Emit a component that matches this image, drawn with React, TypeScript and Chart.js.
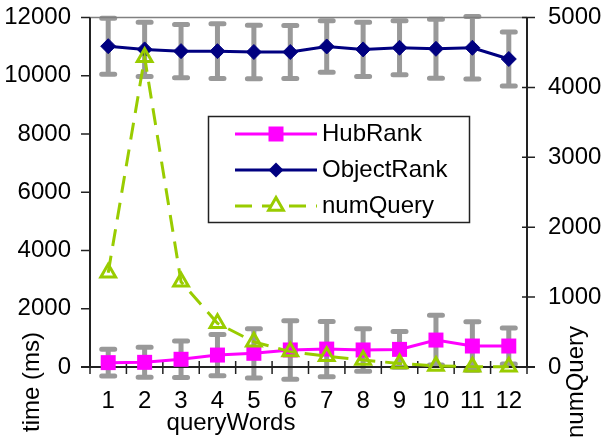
import React, { useEffect, useRef } from 'react';
import { Chart, registerables } from 'chart.js';

Chart.register(...registerables);

// Number of query words on the x axis
const queryWords = ['1', '2', '3', '4', '5', '6', '7', '8', '9', '10', '11', '12'];

// Mean query time (ms) and its spread, left axis
const hubRank = [150, 160, 265, 410, 470, 585, 615, 585, 605, 925, 720, 720];
const hubRankErr = [460, 515, 625, 710, 845, 1005, 950, 730, 615, 855, 835, 615];
const objectRank = [11015, 10905, 10845, 10845, 10815, 10815, 11005, 10905, 10960, 10925, 10960, 10575];
const objectRankErr = [960, 930, 915, 940, 920, 910, 885, 930, 925, 1015, 1075, 925];

// Number of queries per word count, right axis
const numQuery = [1350, 4430, 1220, 625, 360, 220, 155, 100, 50, 15, 5, 5];

// Axis ticks
const timeTicks = [0, 2000, 4000, 6000, 8000, 10000, 12000];
const countTicks = [0, 1000, 2000, 3000, 4000, 5000];

const FONT = '"Liberation Sans", Arial, sans-serif';
const MAGENTA = '#FF00FF';
const NAVY = '#000080';
const LIME = '#99CC00';
const GRAY = '#999999';
const DASH = [17, 10];

const errorBarsAndAxes = {
  id: 'errorBarsAndAxes',
  beforeDatasetsDraw(chart: any) {
    const { ctx } = chart;
    const x = chart.scales.x;
    const y = chart.scales.y;
    const y2 = chart.scales.y2;
    const { left, right, top, bottom } = chart.chartArea;

    // error bars behind the series
    ctx.save();
    ctx.strokeStyle = GRAY;
    ctx.lineWidth = 5;
    ctx.lineCap = 'round';
    const series: [number[], number[]][] = [
      [objectRank, objectRankErr],
      [hubRank, hubRankErr],
    ];
    for (const [vals, errs] of series) {
      vals.forEach((v, i) => {
        const px = x.getPixelForValue(i);
        const hi = y.getPixelForValue(v + errs[i]);
        const lo = y.getPixelForValue(v - errs[i]);
        ctx.beginPath();
        ctx.moveTo(px, hi);
        ctx.lineTo(px, lo);
        ctx.moveTo(px - 6.5, hi);
        ctx.lineTo(px + 6.5, hi);
        ctx.moveTo(px - 6.5, lo);
        ctx.lineTo(px + 6.5, lo);
        ctx.stroke();
      });
    }
    ctx.restore();

    // plot frame and tick marks
    ctx.save();
    ctx.lineCap = 'butt';
    ctx.strokeStyle = '#808080';
    ctx.lineWidth = 1.5;
    ctx.beginPath();
    ctx.moveTo(left, top);
    ctx.lineTo(right, top);
    ctx.stroke();

    ctx.strokeStyle = '#222';
    ctx.lineWidth = 2;
    ctx.beginPath();
    ctx.moveTo(left, top);
    ctx.lineTo(left, bottom);
    ctx.moveTo(right, top);
    ctx.lineTo(right, bottom);
    ctx.moveTo(left - 9, bottom);
    ctx.lineTo(right + 8, bottom);
    ctx.stroke();

    ctx.lineWidth = 1.5;
    ctx.beginPath();
    timeTicks.forEach((v) => {
      const py = y.getPixelForValue(v);
      ctx.moveTo(left - 9, py);
      ctx.lineTo(left, py);
    });
    countTicks.forEach((v) => {
      const py = y2.getPixelForValue(v);
      ctx.moveTo(right - 5, py);
      ctx.lineTo(right + 8, py);
    });
    for (let i = 0; i <= queryWords.length; i++) {
      const px = x.getPixelForValue(i - 0.5);
      ctx.moveTo(px, bottom - 6);
      ctx.lineTo(px, bottom + 7);
    }
    ctx.stroke();
    ctx.restore();
  },
};

function drawTriangle(ctx: CanvasRenderingContext2D, cx: number, cy: number, r: number) {
  ctx.beginPath();
  for (let k = 0; k < 3; k++) {
    const a = (k * 2 * Math.PI) / 3;
    const px = cx + Math.sin(a) * r;
    const py = cy - Math.cos(a) * r;
    if (k === 0) ctx.moveTo(px, py);
    else ctx.lineTo(px, py);
  }
  ctx.closePath();
}

const legendAndTitles = {
  id: 'legendAndTitles',
  afterDraw(chart: any) {
    const { ctx } = chart;
    ctx.save();

    // legend box
    const bx = 208.5, by = 116.5, bw = 261, bh = 106;
    ctx.fillStyle = '#fff';
    ctx.fillRect(bx, by, bw, bh);
    ctx.strokeStyle = '#222';
    ctx.lineWidth = 1.5;
    ctx.strokeRect(bx, by, bw, bh);

    const x0 = 235, x1 = 317, mx = 276, tx = 322;
    const rows = [134, 170, 206];
    ctx.lineWidth = 3;

    // HubRank
    ctx.strokeStyle = MAGENTA;
    ctx.beginPath();
    ctx.moveTo(x0, rows[0]);
    ctx.lineTo(x1, rows[0]);
    ctx.stroke();
    ctx.fillStyle = MAGENTA;
    ctx.fillRect(mx - 7.5, rows[0] - 7.5, 15, 15);

    // ObjectRank
    ctx.strokeStyle = NAVY;
    ctx.beginPath();
    ctx.moveTo(x0, rows[1]);
    ctx.lineTo(x1, rows[1]);
    ctx.stroke();
    ctx.fillStyle = NAVY;
    ctx.beginPath();
    ctx.moveTo(mx - 7.5, rows[1]);
    ctx.lineTo(mx, rows[1] - 7.5);
    ctx.lineTo(mx + 7.5, rows[1]);
    ctx.lineTo(mx, rows[1] + 7.5);
    ctx.closePath();
    ctx.fill();

    // numQuery
    ctx.strokeStyle = LIME;
    ctx.setLineDash(DASH);
    ctx.beginPath();
    ctx.moveTo(x0, rows[2]);
    ctx.lineTo(x1, rows[2]);
    ctx.stroke();
    ctx.setLineDash([]);
    drawTriangle(ctx, mx, rows[2], 8.5);
    ctx.fillStyle = '#fff';
    ctx.fill();
    ctx.stroke();

    ctx.fillStyle = '#000';
    ctx.font = `24px ${FONT}`;
    ctx.textAlign = 'left';
    ctx.textBaseline = 'middle';
    ctx.fillText('HubRank', tx, rows[0]);
    ctx.fillText('ObjectRank', tx, rows[1]);
    ctx.fillText('numQuery', tx, rows[2]);

    // axis titles
    ctx.textAlign = 'center';
    ctx.textBaseline = 'alphabetic';
    ctx.fillText('queryWords', 231, 430);

    ctx.save();
    ctx.translate(39, 382);
    ctx.rotate(-Math.PI / 2);
    ctx.fillText('time (ms)', 0, 0);
    ctx.restore();

    ctx.save();
    ctx.translate(583, 382);
    ctx.rotate(-Math.PI / 2);
    ctx.fillText('numQuery', 0, 0);
    ctx.restore();

    ctx.restore();
  },
};

const plainNumber = (v: any) => String(v);

export default function App() {
  const canvasRef = useRef<HTMLCanvasElement | null>(null);

  useEffect(() => {
    if (!canvasRef.current) return;
    const chart = new Chart(canvasRef.current, {
      type: 'line',
      data: {
        labels: queryWords,
        datasets: [
          {
            label: 'HubRank',
            data: hubRank,
            yAxisID: 'y',
            borderColor: MAGENTA,
            backgroundColor: MAGENTA,
            borderWidth: 3,
            pointStyle: 'rect',
            pointRadius: 10.6,
            pointBorderWidth: 0,
            clip: false,
            order: 1,
          },
          {
            label: 'ObjectRank',
            data: objectRank,
            yAxisID: 'y',
            borderColor: NAVY,
            backgroundColor: NAVY,
            borderWidth: 3,
            pointStyle: 'rectRot',
            pointRadius: 7.5,
            pointBorderWidth: 1,
            clip: false,
            order: 2,
          },
          {
            label: 'numQuery',
            data: numQuery,
            yAxisID: 'y2',
            borderColor: LIME,
            backgroundColor: 'rgba(0,0,0,0)',
            borderWidth: 3,
            borderDash: DASH,
            pointStyle: 'triangle',
            pointRadius: 8.5,
            pointBorderWidth: 3,
            pointBorderColor: LIME,
            pointBackgroundColor: 'rgba(0,0,0,0)',
            clip: false,
            order: 0,
          },
        ],
      },
      options: {
        responsive: false,
        devicePixelRatio: 1,
        animation: false,
        layout: { padding: { top: 17.5, left: 0, right: 0, bottom: 0 } },
        plugins: {
          legend: { display: false },
          tooltip: { enabled: false },
        },
        scales: {
          x: {
            type: 'category',
            offset: true,
            grid: { display: false, drawTicks: false },
            border: { display: false },
            ticks: {
              color: '#000',
              font: { family: FONT, size: 24 },
              padding: 20,
              maxRotation: 0,
              autoSkip: false,
            },
            afterFit: (s: any) => {
              s.height = 72;
              s.paddingLeft = 0;
              s.paddingRight = 0;
            },
          },
          y: {
            type: 'linear',
            position: 'left',
            min: 0,
            max: 12000,
            grid: { display: false, drawTicks: false },
            border: { display: false },
            ticks: {
              color: '#000',
              font: { family: FONT, size: 24 },
              padding: 19,
              callback: plainNumber,
            },
            afterBuildTicks: (s: any) => {
              s.ticks = timeTicks.map((v) => ({ value: v }));
            },
            afterFit: (s: any) => {
              s.width = 90;
              s.paddingTop = 0;
              s.paddingBottom = 0;
            },
          },
          y2: {
            type: 'linear',
            position: 'right',
            min: 0,
            max: 5000,
            grid: { display: false, drawTicks: false },
            border: { display: false },
            ticks: {
              color: '#000',
              font: { family: FONT, size: 24 },
              padding: 21,
              callback: plainNumber,
            },
            afterBuildTicks: (s: any) => {
              s.ticks = countTicks.map((v) => ({ value: v }));
            },
            afterFit: (s: any) => {
              s.width = 76;
              s.paddingTop = 0;
              s.paddingBottom = 0;
            },
          },
        },
      },
      plugins: [errorBarsAndAxes, legendAndTitles],
    });
    return () => chart.destroy();
  }, []);

  return (
    <div style={{ position: 'absolute', left: 0, top: 0, width: 603, height: 439, background: '#fff' }}>
      <canvas ref={canvasRef} width={603} height={439} style={{ display: 'block' }} />
    </div>
  );
}
